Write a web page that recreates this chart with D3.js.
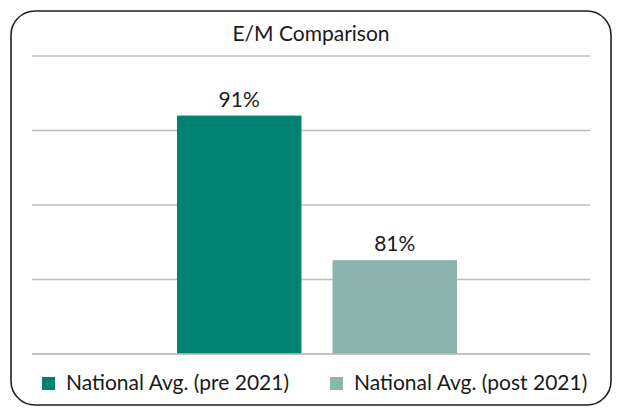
<!DOCTYPE html>
<html>
<head>
<meta charset="utf-8">
<script src="https://cdn.jsdelivr.net/npm/d3@7"></script>
<style>
  html, body { margin: 0; padding: 0; background: #fff; }
  svg { display: block; }
  text { font-family: Lato, "Noto Sans", sans-serif; fill: #1a1a1a; }
</style>
</head>
<body>
<svg id="chart" width="620" height="415"></svg>
<script>
const title = "E/M Comparison";
const categories = ["National Avg. (pre 2021)", "National Avg. (post 2021)"];
const values = [91, 81.3];
const labels = ["91%", "81%"];
const colors = ["#008272", "#8bb4ae"];
const yTicks = [75, 80, 85, 90, 95];

const svg = d3.select("#chart");

// outer rounded frame
svg.append("rect")
  .attr("x", 11).attr("y", 11)
  .attr("width", 600).attr("height", 394)
  .attr("rx", 24).attr("ry", 24)
  .attr("fill", "#fff")
  .attr("stroke", "#222").attr("stroke-width", 1.6);

svg.append("text")
  .attr("x", 311).attr("y", 41)
  .attr("text-anchor", "middle")
  .attr("font-size", 21)
  .text(title);

const y = d3.scaleLinear().domain([75, 95]).range([354, 56]);
const x = d3.scaleBand().domain(categories).range([177, 457]).paddingInner(0.2).paddingOuter(0);

// gridlines
svg.append("g").selectAll("line").data(yTicks).join("line")
  .attr("x1", 32).attr("x2", 590)
  .attr("y1", d => y(d)).attr("y2", d => y(d))
  .attr("stroke", "#bdbdbd").attr("stroke-width", 1.5);

// bars
svg.append("g").selectAll("rect").data(categories).join("rect")
  .attr("x", d => x(d))
  .attr("width", x.bandwidth())
  .attr("y", (d, i) => y(values[i]))
  .attr("height", (d, i) => y(75) - y(values[i]))
  .attr("fill", (d, i) => colors[i]);

// redraw baseline on top
svg.append("line")
  .attr("x1", 32).attr("x2", 590)
  .attr("y1", y(75)).attr("y2", y(75))
  .attr("stroke", "#bdbdbd").attr("stroke-width", 1.5);

// value labels
svg.append("g").selectAll("text").data(categories).join("text")
  .attr("x", d => x(d) + x.bandwidth() / 2)
  .attr("y", (d, i) => y(values[i]) - 9)
  .attr("text-anchor", "middle")
  .attr("font-size", 21)
  .text((d, i) => labels[i]);

// legend
const legendX = [42, 330];
const lg = svg.append("g").selectAll("g").data(categories).join("g")
  .attr("transform", (d, i) => `translate(${legendX[i]},377)`);
lg.append("rect").attr("width", 13).attr("height", 13).attr("fill", (d, i) => colors[i]);
lg.append("text").attr("x", 24).attr("y", 13).attr("font-size", 21).text(d => d);
</script>
</body>
</html>
